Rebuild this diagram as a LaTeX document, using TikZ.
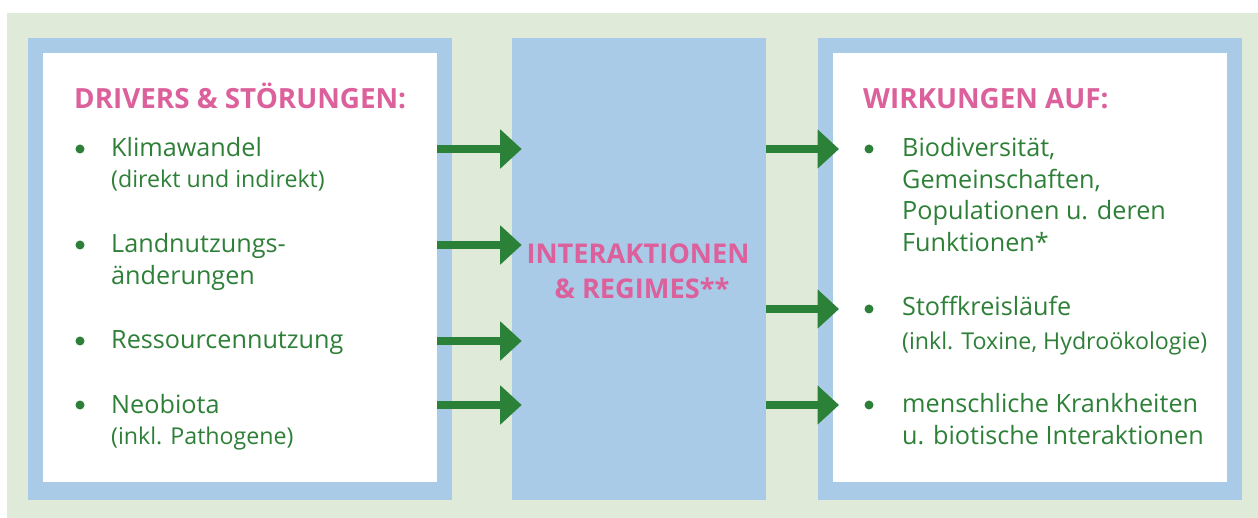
\documentclass[tikz,border=0pt]{standalone}
\usepackage{fontspec}
\setmainfont{Open Sans}
\usetikzlibrary{arrows.meta}
\definecolor{bggreen}{RGB}{223,234,216}
\definecolor{boxblue}{RGB}{169,203,232}
\definecolor{headpink}{RGB}{220,96,155}
\definecolor{txtgreen}{RGB}{46,128,56}
\definecolor{arrgreen}{RGB}{44,129,56}
\tikzset{
  panel/.style={fill=boxblue, draw=none, inner sep=0pt, anchor=north west},
  inner/.style={fill=white, draw=none, inner sep=0pt, anchor=north west},
  head/.style={text=headpink, font=\fontsize{27.8}{32}\selectfont\bfseries, inner sep=0pt, anchor=base west},
  item/.style={text=txtgreen, font=\fontsize{25.2}{30}\selectfont, inner sep=0pt, anchor=base west},
  sub/.style={text=txtgreen, font=\fontsize{23.2}{27}\selectfont, inner sep=0pt, anchor=base west},
  dot/.style={circle, fill=txtgreen, inner sep=0pt, minimum size=9pt},
  flow/.style={draw=arrgreen, line width=8pt, -{Triangle[length=21.5pt, width=38pt]}},
  midhead/.style={text=headpink, font=\fontsize{27.2}{32}\selectfont\bfseries, inner sep=0pt, anchor=base},
}
\begin{document}
\begin{tikzpicture}[x=1pt, y=-1pt]
\useasboundingbox (0,0) rectangle (1258,518);
\fill[bggreen] (7,13) rectangle (1258,518);

% three panels
\node[panel, minimum width=424pt, minimum height=462pt] (left) at (28,38) {};
\node[inner, minimum width=394pt, minimum height=429pt] (leftin) at (43,53) {};
\node[panel, minimum width=254pt, minimum height=462pt] (mid) at (512,38) {};
\node[panel, minimum width=424pt, minimum height=462pt] (right) at (818,38) {};
\node[inner, minimum width=394pt, minimum height=429pt] (rightin) at (833,53) {};

% drivers
\node[head] (dh) at (74,109) {DRIVERS \& STÖRUNGEN:};
\node[dot] (d1) at (80,149) {};
\node[item] (k1) at (111,157) {Klimawandel};
\node[sub] (k1b) at (111,188) {(direkt und indirekt)};
\node[dot] (d2) at (80,245) {};
\node[item] (k2) at (111,253) {Landnutzungs-};
\node[item] (k2b) at (111,285) {änderungen};
\node[dot] (d3) at (80,341) {};
\node[item] (k3) at (111,349) {Ressourcennutzung};
\node[dot] (d4) at (80,405) {};
\node[item] (k4) at (111,413) {Neobiota};
\node[sub] (k4b) at (111,444) {(inkl. Pathogene)};

% interactions
\node[midhead] (ia) at (638,264) {INTERAKTIONEN};
\node[midhead] (ib) at (642,299) {\& REGIMES**};

% effects
\node[head] (wh) at (863,109) {WIRKUNGEN AUF:};
\node[dot] (e1) at (869,149) {};
\node[item] (w1) at (902,157) {Biodiversität,};
\node[item] (w1b) at (902,188.5) {Gemeinschaften,};
\node[item] (w1c) at (902,220) {Populationen u. deren};
\node[item] (w1d) at (902,252) {Funktionen*};
\node[dot] (e2) at (869,309) {};
\node[item] (w2) at (902,316) {Stoffkreisläufe};
\node[sub] (w2b) at (902,350) {(inkl. Toxine, Hydroökologie)};
\node[dot] (e3) at (869,405) {};
\node[item] (w3) at (902,412) {menschliche Krankheiten};
\node[item] (w3b) at (902,444) {u. biotische Interaktionen};

% arrows into the interactions column
\foreach \d in {d1,d2,d3,d4}
  \draw[flow] (\d -| leftin.east) -- ([xshift=9.7pt]\d -| mid.west);
% arrows out of it
\foreach \e in {e1,e2,e3}
  \draw[flow] (\e -| mid.east) -- ([xshift=6pt]\e -| rightin.west);
\end{tikzpicture}
\end{document}
